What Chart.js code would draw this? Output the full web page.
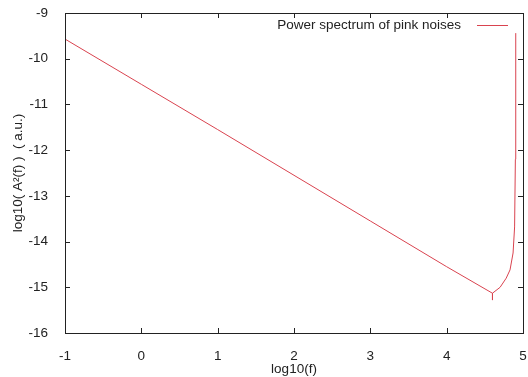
<!DOCTYPE html>
<html>
<head>
<meta charset="utf-8">
<script src="https://cdn.jsdelivr.net/npm/chart.js@4/dist/chart.umd.min.js"></script>
<style>
  html, body { margin: 0; padding: 0; background: #fff; }
  #wrap { width: 528px; height: 377px; }
</style>
</head>
<body>
<div id="wrap"><canvas id="spectrum"></canvas></div>
<script>
// log10(f) and log10(A^2(f))
const freqLog = [-1, 0, 1, 2, 3, 4, 4.6, 4.6, 4.6, 4.7, 4.78, 4.83, 4.87, 4.89, 4.9, 4.905];
const power = [-9.57, -10.56, -11.55, -12.55, -13.55, -14.55, -15.13, -15.28, -15.13, -15.0, -14.8, -14.62, -14.25, -13.68, -12.2, -9.44];
const xTicks = [-1, 0, 1, 2, 3, 4, 5];
const yTicks = [-16, -15, -14, -13, -12, -11, -10, -9];
const seriesLabel = "Power spectrum of pink noises";

const lineColor = "#d9434f";
const fontFamily = "'Liberation Sans', Arial, sans-serif";
const fontSize = 13.5;

// gnuplot-like frame: box + inward ticks on all four sides + legend at top right
const framePlugin = {
  id: "frame",
  afterDraw(chart) {
    const ctx = chart.ctx;
    const a = chart.chartArea;
    const xs = chart.scales.x, ys = chart.scales.y;
    const len = 5;
    ctx.save();
    ctx.strokeStyle = "#222";
    ctx.lineWidth = 1;
    ctx.strokeRect(Math.round(a.left) + 0.5, Math.round(a.top) + 0.5,
      Math.round(a.right - a.left), Math.round(a.bottom - a.top));
    ctx.beginPath();
    xTicks.forEach(v => {
      const px = Math.round(xs.getPixelForValue(v)) + 0.5;
      ctx.moveTo(px, a.bottom); ctx.lineTo(px, a.bottom - len);
      ctx.moveTo(px, a.top); ctx.lineTo(px, a.top + len);
    });
    yTicks.forEach(v => {
      const py = Math.round(ys.getPixelForValue(v)) + 0.5;
      ctx.moveTo(a.left, py); ctx.lineTo(a.left + len, py);
      ctx.moveTo(a.right, py); ctx.lineTo(a.right - len, py);
    });
    ctx.stroke();

    // legend
    ctx.font = fontSize + "px " + fontFamily;
    ctx.fillStyle = "#222";
    ctx.textAlign = "right";
    ctx.textBaseline = "middle";
    ctx.fillText(seriesLabel, 461, 25);
    ctx.strokeStyle = lineColor;
    ctx.beginPath();
    ctx.moveTo(477, 25.5); ctx.lineTo(508, 25.5);
    ctx.stroke();
    ctx.restore();
  }
};

new Chart(document.querySelector("#spectrum"), {
  type: "scatter",
  data: {
    datasets: [{
      label: seriesLabel,
      data: freqLog.map((x, i) => ({ x: x, y: power[i] })),
      showLine: true,
      borderColor: lineColor,
      borderWidth: 1,
      pointRadius: 0,
      tension: 0,
    }],
  },
  options: {
    responsive: true,
    maintainAspectRatio: false,
    animation: false,
    layout: { padding: { top: 13, right: 5, left: 0, bottom: 0 } },
    plugins: {
      legend: { display: false },
      tooltip: { enabled: false },
    },
    scales: {
      x: {
        type: "linear",
        min: -1,
        max: 5,
        afterBuildTicks: s => { s.ticks = xTicks.map(v => ({ value: v })); },
        afterFit: s => { s.height = 44; s.paddingLeft = 0; s.paddingRight = 0; },
        grid: { display: false },
        border: { display: false },
        ticks: { color: "#222", padding: 7, font: { family: fontFamily, size: fontSize } },
        title: {
          display: true,
          text: "log10(f)",
          color: "#222",
          padding: { top: 0, bottom: 0 },
          font: { family: fontFamily, size: fontSize },
        },
      },
      y: {
        min: -16,
        max: -9,
        afterBuildTicks: s => { s.ticks = yTicks.map(v => ({ value: v })); },
        afterFit: s => { s.width = 65; s.paddingTop = 0; s.paddingBottom = 0; },
        grid: { display: false },
        border: { display: false },
        ticks: { color: "#222", padding: 9, font: { family: fontFamily, size: fontSize } },
        title: {
          display: true,
          text: "log10( A\u00b2(f) )  ( a.u.)",
          color: "#222",
          padding: { top: 10, bottom: 0 },
          font: { family: fontFamily, size: fontSize },
        },
      },
    },
  },
  plugins: [framePlugin],
});
</script>
</body>
</html>
